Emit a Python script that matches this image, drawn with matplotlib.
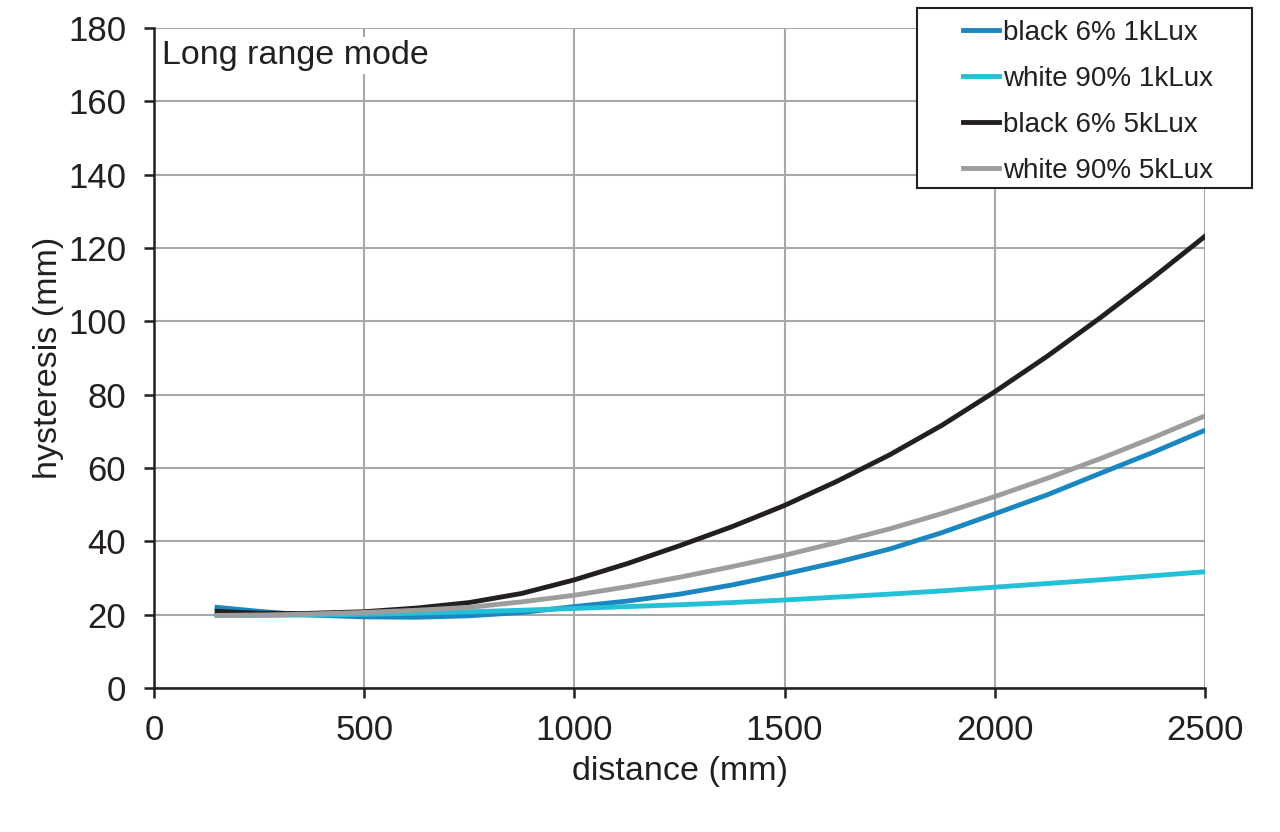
import numpy as np
import matplotlib
matplotlib.use("Agg")
import matplotlib.pyplot as plt
from matplotlib.patches import Rectangle

plt.rcParams['font.family'] = ['Liberation Sans', 'DejaVu Sans']

distance = [150, 250, 350, 500, 625, 750, 875, 1000, 1125, 1250, 1375, 1500,
            1625, 1750, 1875, 2000, 2125, 2250, 2375, 2500]

black_1k = [22.0, 20.9, 20.0, 19.4, 19.3, 19.7, 20.6, 22.2, 23.7, 25.6, 28.1, 31.1,
            34.3, 37.9, 42.4, 47.5, 52.7, 58.5, 64.2, 70.3]
white_1k = [19.8, 19.8, 19.9, 20.1, 20.4, 20.8, 21.2, 21.7, 22.2, 22.7, 23.3, 24.0,
            24.8, 25.6, 26.5, 27.5, 28.5, 29.5, 30.6, 31.7]
black_5k = [20.9, 20.4, 20.3, 20.8, 21.8, 23.3, 25.8, 29.5, 33.9, 38.8, 44.0, 49.8,
            56.4, 63.6, 71.7, 80.8, 90.5, 100.9, 111.8, 123.2]
white_5k = [19.8, 19.9, 20.1, 20.6, 21.2, 22.0, 23.5, 25.3, 27.6, 30.2, 33.1, 36.2,
            39.7, 43.4, 47.6, 52.2, 57.2, 62.5, 68.2, 74.2]

labels = ['black 6% 1kLux', 'white 90% 1kLux', 'black 6% 5kLux', 'white 90% 5kLux']
colors = ['#1a87c1', '#22c1d6', '#231f20', '#9d9d9d']

xticks = [0, 500, 1000, 1500, 2000, 2500]
yticks = list(range(0, 181, 20))

fig = plt.figure(figsize=(12.8, 8.32), dpi=100)
ax = fig.add_axes([154/1280, 1-688/832, (1205-154)/1280, (688-28)/832])

handles = []
for ys, lab, col in zip([black_1k, white_1k, black_5k, white_5k], labels, colors):
    ln, = ax.plot(distance, ys, color=col, lw=3.5, label=lab)
    handles.append(ln)

ax.set_xlim(0, 2500)
ax.set_ylim(0, 180)
ax.set_xticks(xticks)
ax.set_yticks(yticks)
ax.grid(True, color='#a8a8a8', lw=1.5)
ax.set_axisbelow(True)
for s in ['top', 'right']:
    ax.spines[s].set_visible(False)
for s in ['left', 'bottom']:
    ax.spines[s].set_linewidth(1.8)
    ax.spines[s].set_color('#231f20')
ax.tick_params(direction='out', length=7, width=1.8, color='#231f20',
               labelsize=25, labelcolor='#231f20')
ax.tick_params(axis='x', pad=12)
ax.tick_params(axis='y', pad=13)

ax.set_xlabel('distance (mm)', fontsize=24.5, color='#231f20', labelpad=6)
ax.set_ylabel('hysteresis (mm)', fontsize=24.5, color='#231f20', labelpad=3)

ax.text(0.008, 0.982, 'Long range mode', transform=ax.transAxes, fontsize=24.5,
        color='#231f20', va='top', ha='left',
        bbox=dict(facecolor='white', edgecolor='none', pad=2))

# legend frame drawn separately to get the wide left margin of the original
box = Rectangle((917/1280, 1-188/832), (1252-917)/1280, (188-8)/832,
                transform=fig.transFigure, facecolor='white',
                edgecolor='#231f20', lw=1.5, zorder=4)
fig.patches.append(box)

leg = fig.legend(handles=handles, loc='upper left',
                 bbox_to_anchor=(963/1280, 1-20/832), borderaxespad=0,
                 fontsize=20, handlelength=1.3, handletextpad=0.15,
                 labelspacing=0.72, borderpad=0, frameon=False)
leg.set_zorder(5)
for t in leg.get_texts():
    t.set_color('#231f20')

fig.savefig('out.png', dpi=100)
